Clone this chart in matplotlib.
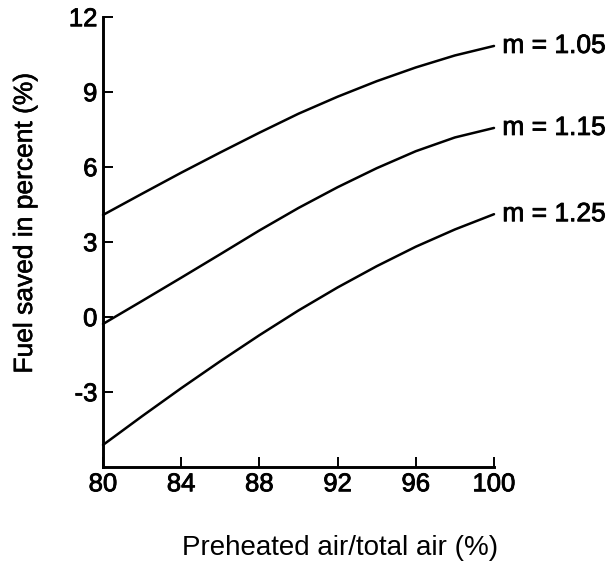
import matplotlib
matplotlib.use("Agg")
import matplotlib.pyplot as plt
import matplotlib.patheffects as pe

# Data
x_vals = [80, 82, 84, 86, 88, 90, 92, 94, 96, 98, 100]
m105 = [4.07, 4.92, 5.76, 6.57, 7.36, 8.12, 8.8, 9.42, 9.97, 10.45, 10.83]
m115 = [-0.29, 0.63, 1.56, 2.5, 3.45, 4.35, 5.18, 5.94, 6.62, 7.17, 7.55]
m125 = [-5.13, -3.98, -2.86, -1.78, -0.74, 0.25, 1.17, 2.02, 2.8, 3.49, 4.1]
series_labels = ["m = 1.05", "m = 1.15", "m = 1.25"]
x_ticks = [80, 84, 88, 92, 96, 100]
y_ticks = [-3, 0, 3, 6, 9, 12]

plt.rcParams['font.family'] = ['Liberation Sans', 'DejaVu Sans']

W, H = 611, 564
fig = plt.figure(figsize=(W / 100, H / 100), dpi=100)
left, right, top, bottom = 103, 494, 16.7, 466.7
ax = fig.add_axes([left / W, 1 - bottom / H, (right - left) / W, (bottom - top) / H])

bold = [pe.withStroke(linewidth=0.6, foreground='black')]

for ys, lab in zip([m105, m115, m125], series_labels):
    ax.plot(x_vals, ys, color='black', lw=1.8, solid_capstyle='round',
            solid_joinstyle='round', clip_on=False)
    ax.annotate(lab, xy=(x_vals[-1], ys[-1]), xytext=(6, 0), textcoords='offset points',
                va='center', ha='left', fontsize=19, color='black', annotation_clip=False,
                path_effects=bold)

ax.set_xlim(80, 100)
ax.set_ylim(-6, 12)
ax.set_xticks(x_ticks)
ax.set_yticks(y_ticks)
ax.set_xticklabels([str(t) for t in x_ticks])
ax.set_yticklabels([str(t) for t in y_ticks])

for s in ['top', 'right']:
    ax.spines[s].set_visible(False)
for s in ['left', 'bottom']:
    ax.spines[s].set_linewidth(2.1)
    ax.spines[s].set_color('black')

ax.tick_params(axis='both', direction='in', length=7, width=1.4, labelsize=18.5, colors='black')
ax.tick_params(axis='x', pad=4)
ax.tick_params(axis='y', pad=4)
for lbl in ax.get_xticklabels() + ax.get_yticklabels():
    lbl.set_path_effects(bold)

fig.text(340 / W, 1 - 548 / H, "Preheated air/total air (%)", ha='center', va='center', fontsize=20)
fig.text(25 / W, 1 - 223 / H, "Fuel saved in percent (%)", ha='center', va='center', fontsize=19,
         rotation=90, path_effects=[pe.withStroke(linewidth=0.4, foreground='black')])

fig.savefig("out.png", dpi=100)
